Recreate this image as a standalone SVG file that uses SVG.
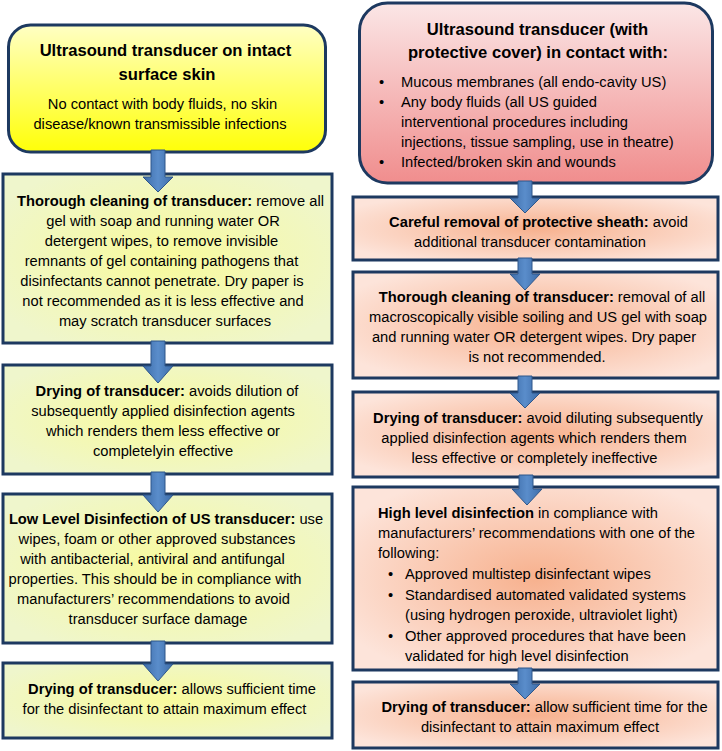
<svg xmlns="http://www.w3.org/2000/svg" width="722" height="751" viewBox="0 0 722 751">
<defs>
<linearGradient id="gY" x1="0" y1="0" x2="0" y2="1"><stop offset="0" stop-color="#ffffc4"/><stop offset="1" stop-color="#ffff08"/></linearGradient>
<linearGradient id="gR" x1="0" y1="0" x2="0" y2="1"><stop offset="0" stop-color="#fbe6e6"/><stop offset="1" stop-color="#f08d8d"/></linearGradient>
<radialGradient id="gYb" cx="0.5" cy="0.5" r="0.6"><stop offset="0" stop-color="#f8fa9c"/><stop offset="1" stop-color="#eff6cc"/></radialGradient>
<radialGradient id="gRb" cx="0.5" cy="0.5" r="0.6"><stop offset="0" stop-color="#f7b18e"/><stop offset="1" stop-color="#fde4da"/></radialGradient>
<linearGradient id="gA" x1="0" y1="0" x2="1" y2="0"><stop offset="0" stop-color="#3d6ca8"/><stop offset="0.5" stop-color="#5a8dcb"/><stop offset="1" stop-color="#3d6ca8"/></linearGradient>
</defs>
<style>
.box{stroke:#1d3960;stroke-width:3}
.y{fill:url(#gYb)}
.r{fill:url(#gRb)}
text{font-family:"Liberation Sans",Arial,sans-serif;font-size:14.7px;fill:#000}
.t{font-size:16.6px;font-weight:bold}
.m{text-anchor:middle}
.b{font-weight:bold}
.arr{fill:url(#gA);stroke:#2f578a;stroke-width:1}
</style>

<g id="left-start">
<rect class="box" x="8.5" y="25" width="317" height="127" rx="22" fill="url(#gY)"/>
<text class="t m" x="165.5" y="56">Ultrasound transducer on intact</text>
<text class="t m" x="167" y="80">surface skin</text>
<text class="m" x="162.5" y="109">No contact with body fluids, no skin</text>
<text class="m" x="160" y="129">disease/known transmissible infections</text>
</g>

<g id="left-cleaning">
<rect class="box y" x="3" y="174" width="329" height="169"/>
<text class="m" x="170.5" y="206"><tspan class="b">Thorough cleaning of transducer:</tspan> remove all</text>
<text class="m" x="163" y="226">gel with soap and running water OR</text>
<text class="m" x="161.5" y="246">detergent wipes, to remove invisible</text>
<text class="m" x="161.5" y="266">remnants of gel containing pathogens that</text>
<text class="m" x="162" y="286">disinfectants cannot penetrate. Dry paper is</text>
<text class="m" x="163" y="306">not recommended as it is less effective and</text>
<text class="m" x="165" y="326">may scratch transducer surfaces</text>
</g>

<g id="left-drying1">
<rect class="box y" x="3" y="365" width="329" height="109"/>
<text class="m" x="167" y="396"><tspan class="b">Drying of transducer:</tspan> avoids dilution of</text>
<text class="m" x="163" y="416">subsequently applied disinfection agents</text>
<text class="m" x="163" y="436">which renders them less effective or</text>
<text class="m" x="163" y="456">completelyin effective</text>
</g>

<g id="left-lld">
<rect class="box y" x="3" y="494" width="329" height="149"/>
<text class="m" x="166" y="524"><tspan class="b">Low Level Disinfection of US transducer:</tspan> use</text>
<text class="m" x="157" y="544">wipes, foam or other approved substances</text>
<text class="m" x="152.5" y="564">with antibacterial, antiviral and antifungal</text>
<text class="m" x="155" y="584">properties. This should be in compliance with</text>
<text class="m" x="153.5" y="604">manufacturers’ recommendations to avoid</text>
<text class="m" x="158" y="624">transducer surface damage</text>
</g>

<g id="left-drying2">
<rect class="box y" x="3" y="663" width="329" height="75"/>
<text class="m" x="172" y="694"><tspan class="b">Drying of transducer:</tspan> allows sufficient time</text>
<text class="m" x="164.5" y="714">for the disinfectant to attain maximum effect</text>
</g>

<g id="right-start">
<rect class="box" x="359.5" y="3" width="353" height="180" rx="28" fill="url(#gR)"/>
<text class="t m" x="537.5" y="35">Ultrasound transducer (with</text>
<text class="t m" x="538" y="58">protective cover) in contact with:</text>
<text x="379" y="87">•</text><text x="401" y="87">Mucous membranes (all endo-cavity US)</text>
<text x="379" y="107">•</text><text x="401" y="107">Any body fluids (all US guided</text>
<text x="401" y="127">interventional procedures including</text>
<text x="401" y="147">injections, tissue sampling, use in theatre)</text>
<text x="379" y="167">•</text><text x="401" y="167">Infected/broken skin and wounds</text>
</g>

<g id="right-sheath">
<rect class="box r" x="353" y="197" width="365" height="63"/>
<text class="m" x="538.5" y="227"><tspan class="b">Careful removal of protective sheath:</tspan> avoid</text>
<text class="m" x="530" y="247">additional transducer contamination</text>
</g>

<g id="right-cleaning">
<rect class="box r" x="353" y="272" width="365" height="106"/>
<text class="m" x="542" y="302"><tspan class="b">Thorough cleaning of transducer:</tspan> removal of all</text>
<text class="m" x="538" y="322">macroscopically visible soiling and US gel with soap</text>
<text class="m" x="534" y="342">and running water OR detergent wipes. Dry paper</text>
<text class="m" x="537" y="362">is not recommended.</text>
</g>

<g id="right-drying1">
<rect class="box r" x="353" y="392" width="365" height="85"/>
<text class="m" x="538" y="423"><tspan class="b">Drying of transducer:</tspan> avoid diluting subsequently</text>
<text class="m" x="534" y="443">applied disinfection agents which renders them</text>
<text class="m" x="534.5" y="463">less effective or completely ineffective</text>
</g>

<g id="right-hld">
<rect class="box r" x="353" y="487" width="365" height="183"/>
<text x="378" y="518"><tspan class="b">High level disinfection</tspan> in compliance with</text>
<text x="378" y="538">manufacturers’ recommendations with one of the</text>
<text x="378" y="558">following:</text>
<text x="388" y="579">•</text><text x="405" y="579">Approved multistep disinfectant wipes</text>
<text x="388" y="600">•</text><text x="405" y="600">Standardised automated validated systems</text>
<text x="405" y="620">(using hydrogen peroxide, ultraviolet light)</text>
<text x="388" y="641">•</text><text x="405" y="641">Other approved procedures that have been</text>
<text x="405" y="661">validated for high level disinfection</text>
</g>

<g id="right-drying2">
<rect class="box r" x="353" y="682" width="365" height="66"/>
<text class="m" x="544.5" y="712"><tspan class="b">Drying of transducer:</tspan> allow sufficient time for the</text>
<text class="m" x="540" y="732">disinfectant to attain maximum effect</text>
</g>

<g id="connectors">
<path class="arr" d="M151,150 H165 V177 H173 L158,192 L143,177 H151 Z"/>
<path class="arr" d="M151,341 H165 V366 H173 L158,383 L143,366 H151 Z"/>
<path class="arr" d="M151,472 H165 V495 H173 L158,512 L143,495 H151 Z"/>
<path class="arr" d="M151,641 H165 V664 H173 L158,681 L143,664 H151 Z"/>
<path class="arr" d="M518,181 H532 V198 H540 L525,213 L510,198 H518 Z"/>
<path class="arr" d="M518,258 H532 V274 H540 L525,290 L510,274 H518 Z"/>
<path class="arr" d="M518,376 H532 V393 H540 L525,408 L510,393 H518 Z"/>
<path class="arr" d="M519,475 H533 V489 H542 L527,505 L512,489 H519 Z"/>
<path class="arr" d="M518,668 H532 V684 H540 L525,699 L510,684 H518 Z"/>
</g>
</svg>
